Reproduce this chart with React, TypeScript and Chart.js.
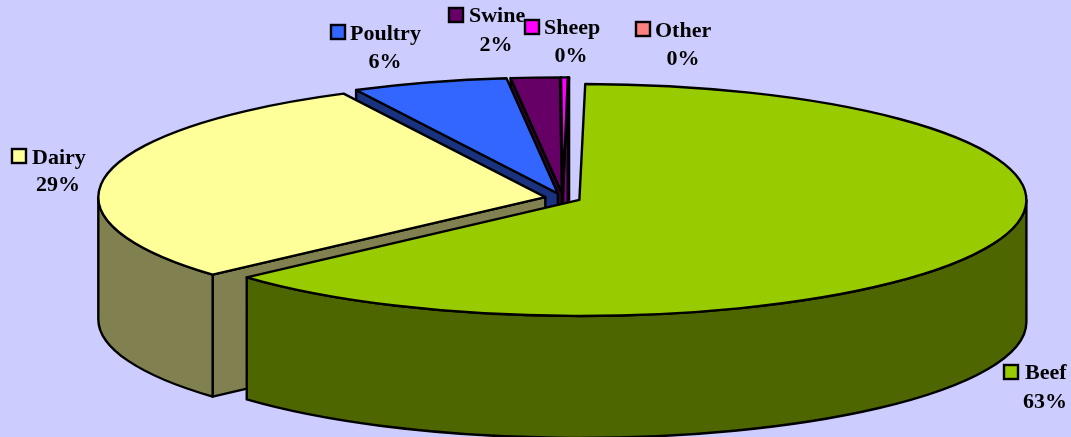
import React, { useEffect, useRef } from "react";
import { Chart, registerables } from "chart.js";

Chart.register(...registerables);

const categories = ["Beef", "Dairy", "Poultry", "Swine", "Sheep", "Other"];
const shares = [63.15, 29.19, 5.62, 1.76, 0.24, 0.04];
const topColors = ["#99CC00", "#FFFF99", "#3366FF", "#660066", "#FF00FF", "#FF8080"];
const sideColors = ["#4D6600", "#808050", "#1A3380", "#330033", "#800080", "#804040"];
const percentLabels = ["63%", "29%", "6%", "2%", "0%", "0%"];

const WIDTH = 1071;
const HEIGHT = 437;
const BG = "#CCCCFF";
const RX = 447;
const RY = 116;
const DEPTH = 122;
const EXPLODE = 18;

// marker x, marker y, text x, name baseline, percent centre x, percent baseline
const labelLayout = [
  [1004, 365, 1025, 379, 1045, 408],
  [12, 149, 32, 164, 58, 191],
  [331, 25, 350, 40, 385, 68],
  [449, 8, 469, 22, 496, 51],
  [525, 20, 544, 34, 571, 62],
  [636, 22, 655, 37, 683, 65],
];

const pie3d = {
  id: "pie3d",
  beforeDatasetDraw(chart: any) {
    const ctx: CanvasRenderingContext2D = chart.ctx;
    const arcs = chart.getDatasetMeta(0).data as any[];
    ctx.save();
    ctx.lineWidth = 2.4;
    ctx.strokeStyle = "#000";
    ctx.lineJoin = "round";
    for (let i = arcs.length - 1; i >= 0; i--) {
      const p = arcs[i].getProps(["x", "y", "startAngle", "endAngle", "outerRadius"], true);
      const s = p.startAngle;
      const e = p.endAngle;
      const mid = (s + e) / 2;
      const cx = p.x + Math.cos(mid) * EXPLODE;
      const cy = p.y + (Math.sin(mid) * EXPLODE * RY) / RX;
      const ex = (t: number) => cx + RX * Math.cos(t);
      const ey = (t: number) => cy + RY * Math.sin(t);
      const radialWall = (t: number) => {
        ctx.beginPath();
        ctx.moveTo(cx, cy);
        ctx.lineTo(ex(t), ey(t));
        ctx.lineTo(ex(t), ey(t) + DEPTH);
        ctx.lineTo(cx, cy + DEPTH);
        ctx.closePath();
        ctx.fillStyle = sideColors[i];
        ctx.fill();
        ctx.stroke();
      };
      if (-Math.cos(s) > 0) radialWall(s);
      if (Math.cos(e) > 0) radialWall(e);
      // outer wall: only the part of the rim that faces the viewer
      for (const k of [-2, 0, 2]) {
        const a = Math.max(s, k * Math.PI);
        const b = Math.min(e, k * Math.PI + Math.PI);
        if (b > a) {
          ctx.beginPath();
          ctx.ellipse(cx, cy, RX, RY, 0, a, b);
          ctx.lineTo(ex(b), ey(b) + DEPTH);
          ctx.ellipse(cx, cy + DEPTH, RX, RY, 0, b, a, true);
          ctx.closePath();
          ctx.fillStyle = sideColors[i];
          ctx.fill();
          ctx.stroke();
        }
      }
      ctx.beginPath();
      ctx.moveTo(cx, cy);
      ctx.ellipse(cx, cy, RX, RY, 0, s, e);
      ctx.closePath();
      ctx.fillStyle = topColors[i];
      ctx.fill();
      ctx.stroke();
    }
    ctx.restore();
    return false;
  },
  afterDraw(chart: any) {
    const ctx: CanvasRenderingContext2D = chart.ctx;
    ctx.save();
    ctx.font = 'bold 22px "Liberation Serif"';
    ctx.textBaseline = "alphabetic";
    categories.forEach((name, i) => {
      const [mx, my, tx, ty, px, py] = labelLayout[i];
      ctx.fillStyle = topColors[i];
      ctx.strokeStyle = "#000";
      ctx.lineWidth = 2.4;
      ctx.fillRect(mx, my, 14, 14);
      ctx.strokeRect(mx, my, 14, 14);
      ctx.fillStyle = "#000";
      ctx.textAlign = "left";
      ctx.fillText(name, tx, ty);
      ctx.textAlign = "center";
      ctx.fillText(percentLabels[i], px, py);
    });
    ctx.restore();
  },
};

export default function App() {
  const ref = useRef<HTMLCanvasElement>(null);
  useEffect(() => {
    document.body.style.margin = "0";
    document.body.style.background = BG;
    const chart = new Chart(ref.current!, {
      type: "pie",
      data: {
        labels: categories,
        datasets: [{ data: shares, backgroundColor: topColors, borderColor: "#000", borderWidth: 2 }],
      },
      options: {
        responsive: false,
        animation: false,
        rotation: 0.75,
        layout: { padding: { left: 55, right: 0, top: 0, bottom: 41 } },
        plugins: { legend: { display: false }, tooltip: { enabled: false } },
      },
      plugins: [pie3d],
    } as any);
    return () => chart.destroy();
  }, []);
  return (
    <canvas
      ref={ref}
      width={WIDTH}
      height={HEIGHT}
      style={{ display: "block", width: WIDTH, height: HEIGHT, background: BG }}
    />
  );
}
